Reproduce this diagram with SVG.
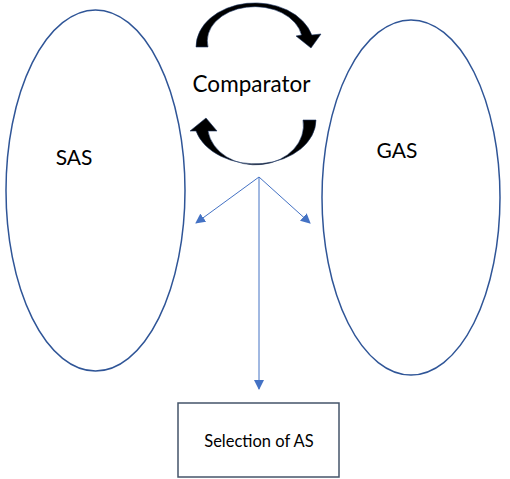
<svg xmlns="http://www.w3.org/2000/svg" width="510" height="479" viewBox="0 0 510 479">
<style>
.set{fill:none;stroke:#2F5597;stroke-width:1.5}
.lbl{font-family:Lato,"Open Sans","Liberation Sans",sans-serif;fill:#000}
.conn{stroke:#4472C4;stroke-width:1;fill:none}
.cyc{fill:#000;stroke:#1F3864;stroke-width:0.6}
</style>
<defs>
<marker id="ah" viewBox="0 0 10 10" refX="9" refY="5" markerWidth="10" markerHeight="10" markerUnits="userSpaceOnUse" orient="auto">
<path d="M0,0 L10,5 L0,10 Z" fill="#4472C4"/>
</marker>
</defs>
<rect width="510" height="479" fill="#fff"/>
<g id="sas">
<ellipse class="set" cx="95.5" cy="190.5" rx="89.5" ry="180.5"/>
<text class="lbl" x="74" y="165" font-size="21" text-anchor="middle">SAS</text>
</g>
<g id="gas">
<ellipse class="set" cx="411" cy="197.5" rx="89" ry="177.5"/>
<text class="lbl" x="397" y="158" font-size="21" text-anchor="middle">GAS</text>
</g>
<g id="comparator">
<path class="cyc" d="M196,47 A59,44 0 0 1 311.8,35 L321,34 L311,48 L296,36 L301.5,35 A47,34 0 0 0 208,47 Z"/>
<path class="cyc" d="M316,120 A61,44 0 0 1 196,131 L190,131 L206,118 L217,131 L208,131 A47.5,39 0 0 0 303,120 Z"/>
<text class="lbl" x="251.5" y="92" font-size="22.5" text-anchor="middle">Comparator</text>
</g>
<g id="selection">
<rect x="178" y="403" width="161" height="74" fill="none" stroke="#44546A" stroke-width="1.5"/>
<text class="lbl" x="259" y="447" font-size="16.5" text-anchor="middle">Selection of AS</text>
</g>
<g id="connectors">
<line class="conn" x1="259" y1="177" x2="196" y2="223" marker-end="url(#ah)"/>
<line class="conn" x1="259" y1="177" x2="310" y2="223" marker-end="url(#ah)"/>
<line class="conn" x1="259" y1="177" x2="259" y2="389" marker-end="url(#ah)"/>
</g>
</svg>
